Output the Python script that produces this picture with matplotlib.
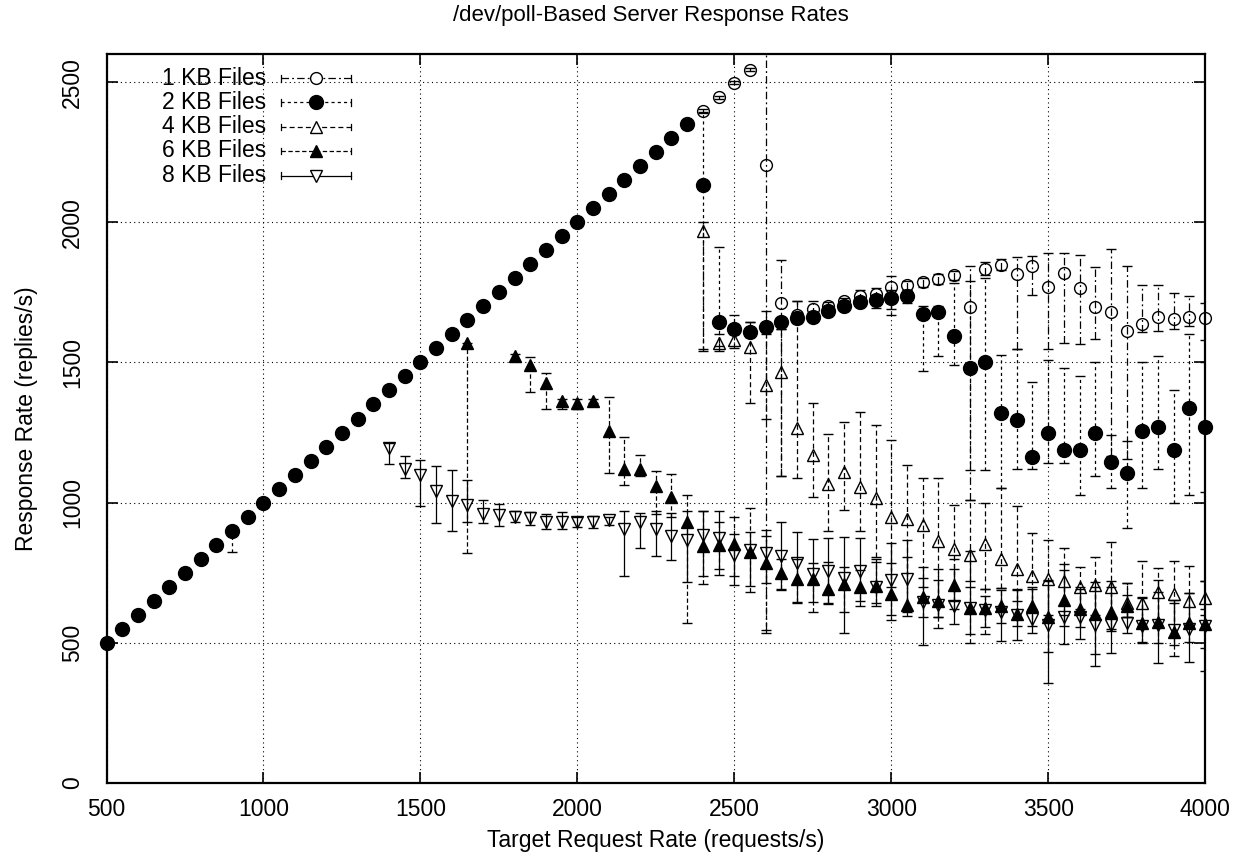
import matplotlib
matplotlib.use('Agg')
import matplotlib.pyplot as plt
import numpy as np

plt.rcParams['font.family'] = ['Liberation Sans', 'DejaVu Sans']

title = "/dev/poll-Based Server Response Rates"
xlabel = "Target Request Rate (requests/s)"
ylabel = "Response Rate (replies/s)"
labels = ["1 KB Files", "2 KB Files", "4 KB Files", "6 KB Files", "8 KB Files"]
xticks = [500, 1000, 1500, 2000, 2500, 3000, 3500, 4000]
yticks = [0, 500, 1000, 1500, 2000, 2500]

head_x = list(range(500, 2400, 50))
tail_x = list(range(2400, 4050, 50))

# 1 KB
kb1_y = [2399, 2446, 2498, 2545, 2206, 1714, 1668, 1691, 1702, 1718, 1736, 1744, 1769, 1775, 1786,
         1798, 1811, 1698, 1834, 1849, 1817, 1845, 1771, 1819, 1766, 1699, 1679, 1613, 1636, 1662,
         1656, 1663, 1657]
kb1_lo = [2395, 2441, 2493, 2540, 545, 1093, 1650, 1670, 1690, 1705, 1720, 1725, 1690, 1760, 1770,
          1780, 1795, 1009, 1813, 1830, 1548, 1742, 1548, 1569, 1566, 1584, 1167, 1155, 1607, 1614,
          1619, 1631, 1581]
kb1_hi = [2403, 2451, 2503, 2550, 2640, 1867, 1718, 1718, 1715, 1730, 1760, 1765, 1807, 1790, 1800,
          1815, 1825, 1843, 1860, 1870, 1876, 1879, 1891, 1891, 1885, 1841, 1905, 1846, 1778, 1778,
          1748, 1738, 1712]

# 2 KB
kb2_head_y = [500, 550, 600, 650, 700, 750, 800, 850, 900, 950, 1000, 1050, 1100, 1150, 1200, 1250,
              1300, 1350, 1400, 1450, 1500, 1550, 1600, 1650, 1700, 1750, 1800, 1850, 1900, 1950,
              2000, 2050, 2100, 2150, 2200, 2250, 2300, 2350]
kb2_head_lo = [500, 550, 600, 650, 700, 750, 800, 850, 825, 950, 1000, 1050, 1100, 1150, 1200, 1250,
               1300, 1350, 1400, 1450, 1500, 1550, 1600, 1650, 1700, 1750, 1800, 1850, 1900, 1950,
               2000, 2050, 2100, 2150, 2200, 2250, 2300, 2350]
kb2_tail_y = [2134, 1646, 1619, 1607, 1627, 1643, 1658, 1663, 1685, 1702, 1717, 1723, 1731, 1739, 1673,
              1679, 1593, 1481, 1500, 1319, 1294, 1164, 1250, 1189, 1187, 1250, 1144, 1107, 1254, 1269,
              1188, 1337, 1268]
kb2_tail_lo = [1548, 1560, 1600, 1590, 1607, 1619, 1640, 1650, 1670, 1690, 1700, 1694, 1670, 1712, 1471,
               1524, 1492, 1117, 1117, 1051, 1119, 1119, 1141, 1141, 1027, 1095, 1051, 909, 1051, 1119,
               1000, 1027, 1039]
kb2_tail_hi = [2390, 1912, 1670, 1643, 1682, 1660, 1680, 1680, 1700, 1715, 1730, 1740, 1760, 1760, 1700,
               1700, 1784, 1790, 1800, 1528, 1548, 1429, 1510, 1480, 1450, 1500, 1240, 1221, 1500, 1524,
               1400, 1600, 1500]

# 4 KB
kb4_y = [1968, 1569, 1579, 1557, 1420, 1466, 1266, 1170, 1066, 1109, 1056, 1016, 948, 941, 920,
         864, 835, 812, 851, 798, 762, 738, 726, 720, 698, 705, 697, 640, 643, 680, 673, 650, 659]
kb4_lo = [1540, 1540, 1550, 1355, 1300, 1093, 1087, 1021, 900, 974, 900, 805, 700, 620, 700,
          593, 650, 720, 690, 694, 650, 620, 600, 600, 620, 600, 550, 590, 560, 560, 520, 560, 600]
kb4_hi = [2000, 1600, 1600, 1643, 1600, 1620, 1718, 1355, 1244, 1289, 1325, 1277, 1224, 1135, 1087,
          1087, 992, 1008, 1000, 1051, 986, 891, 867, 837, 769, 807, 860, 712, 793, 766, 793, 774, 720]

# 6 KB
kb6_x = [1650] + list(range(1800, 4050, 50))
kb6_y = [1571, 1524, 1492, 1426, 1363, 1355, 1364, 1256, 1119, 1120, 1060, 1021, 932, 845, 849, 851,
         822, 786, 748, 727, 727, 692, 710, 700, 702, 674, 635, 662, 650, 706, 625, 625, 631, 601,
         629, 593, 652, 619, 601, 611, 629, 570, 573, 539, 571, 565]
kb6_lo = [821, 1510, 1394, 1334, 1334, 1334, 1355, 1105, 1061, 1093, 960, 950, 571, 710, 762, 738,
          679, 536, 690, 646, 610, 641, 611, 630, 640, 581, 595, 593, 551, 620, 500, 531, 569, 560,
          560, 468, 560, 557, 460, 540, 590, 500, 500, 452, 504, 399]
kb6_hi = [1571, 1530, 1519, 1462, 1370, 1370, 1370, 1376, 1234, 1169, 1112, 1102, 1028, 971, 932, 948,
          980, 880, 800, 800, 783, 789, 769, 760, 800, 783, 807, 730, 762, 800, 700, 691, 694, 690,
          700, 720, 760, 690, 700, 700, 712, 660, 680, 640, 676, 720]

# 8 KB
kb8_x = list(range(1400, 4050, 50))
kb8_y = [1196, 1119, 1099, 1042, 1006, 992, 959, 956, 950, 944, 929, 932, 932, 932, 938, 905, 932, 905,
         879, 867, 885, 873, 813, 830, 821, 810, 783, 745, 754, 732, 757, 698, 724, 726, 644, 635,
         631, 623, 615, 610, 600, 584, 563, 593, 593, 563, 563, 569, 560, 563, 545, 548, 560]
kb8_lo = [1137, 1089, 986, 926, 899, 930, 926, 917, 929, 921, 905, 905, 912, 908, 920, 738, 839, 810,
          795, 718, 738, 742, 704, 703, 712, 688, 643, 644, 638, 534, 649, 632, 600, 610, 492, 591,
          567, 531, 557, 505, 510, 536, 355, 495, 512, 417, 464, 534, 504, 426, 492, 432, 480]
kb8_hi = [1212, 1167, 1152, 1132, 1117, 1081, 1010, 995, 971, 968, 960, 968, 950, 953, 950, 971, 962,
          971, 962, 971, 971, 971, 888, 894, 903, 930, 894, 869, 873, 876, 873, 789, 855, 866, 769,
          724, 762, 827, 667, 688, 688, 691, 724, 781, 698, 718, 721, 670, 664, 724, 652, 676, 620]

FS = 16.5
fig = plt.figure(figsize=(12.39, 8.59), dpi=100)
ax = fig.add_axes([0.0860, 0.0888, 0.8866, 0.8480])

styles = [
    dict(marker='o', mfc='none', ms=8.5, ls=(0, (6, 2.5, 1.5, 2.5))),
    dict(marker='o', mfc='black', ms=10, ls=(0, (2.5, 2.5))),
    dict(marker='^', mfc='none', ms=8.5, ls=(0, (4, 2.5))),
    dict(marker='^', mfc='black', ms=8.5, ls=(0, (3.5, 2))),
    dict(marker='v', mfc='none', ms=8.5, ls='solid'),
]

series = [
    (tail_x, kb1_y, kb1_lo, kb1_hi),
    (head_x + tail_x, kb2_head_y + kb2_tail_y, kb2_head_lo + kb2_tail_lo, kb2_head_y + kb2_tail_hi),
    (tail_x, kb4_y, kb4_lo, kb4_hi),
    (kb6_x, kb6_y, kb6_lo, kb6_hi),
    (kb8_x, kb8_y, kb8_lo, kb8_hi),
]

for i, ((x, y, lo, hi), st) in enumerate(zip(series, styles)):
    y = np.array(y, float)
    lo = np.array(lo, float)
    hi = np.array(hi, float)
    yerr = [np.clip(y - lo, 0, None), np.clip(hi - y, 0, None)]
    cont = ax.errorbar(x, y, yerr=yerr, fmt=st['marker'], mfc=st['mfc'], mec='black',
                       ms=st['ms'], mew=1.0, ecolor='black', elinewidth=0.9, capsize=3.6,
                       capthick=0.9, zorder=3 + i)
    cont[0].set_clip_on(False)
    for lc in cont[2]:
        lc.set_linestyle(st['ls'])

ax.set_xlim(500, 4000)
ax.set_ylim(0, 2600)
ax.set_xticks(xticks)
ax.set_yticks(yticks)
ax.set_xticklabels([str(v) for v in xticks], fontsize=FS)
ax.set_yticklabels([str(v) for v in yticks], fontsize=FS, rotation=90, va='center')
ax.tick_params(axis='both', direction='in', length=8, width=1.2, top=True, right=True)
ax.tick_params(axis='x', pad=11)
ax.tick_params(axis='y', pad=16)
ax.grid(True, color='black', linestyle=(0, (1, 3)), linewidth=0.8)
ax.set_axisbelow(True)
for sp in ax.spines.values():
    sp.set_linewidth(1.6)

ax.set_xlabel(xlabel, fontsize=FS, labelpad=6)
ax.set_ylabel(ylabel, fontsize=FS, labelpad=17)
fig.text(0.5254, 0.994, title, ha='center', va='top', fontsize=16)

# gnuplot-style key
key_rows = [0.9671, 0.9341, 0.9002, 0.8673, 0.8333]
tx, sx0, sx1, mx = 0.1452, 0.1588, 0.2226, 0.1907
capd = 0.0045
for i, (lab, st) in enumerate(zip(labels, styles)):
    yy = key_rows[i]
    ax.text(tx, yy, lab, transform=ax.transAxes, ha='right', va='center', fontsize=FS, zorder=20)
    ax.plot([sx0, sx1], [yy, yy], transform=ax.transAxes, color='black', lw=0.9,
            ls=st['ls'], clip_on=False, zorder=20)
    for xe in (sx0, sx1):
        ax.plot([xe, xe], [yy - capd, yy + capd], transform=ax.transAxes, color='black',
                lw=0.9, clip_on=False, zorder=20)
    ax.plot([mx], [yy], transform=ax.transAxes, marker=st['marker'], mfc=st['mfc'] if st['mfc'] != 'none' else 'white',
            mec='black', ms=st['ms'], mew=1.0, ls='none', clip_on=False, zorder=21)

fig.savefig('out.png', dpi=100, facecolor='white')
